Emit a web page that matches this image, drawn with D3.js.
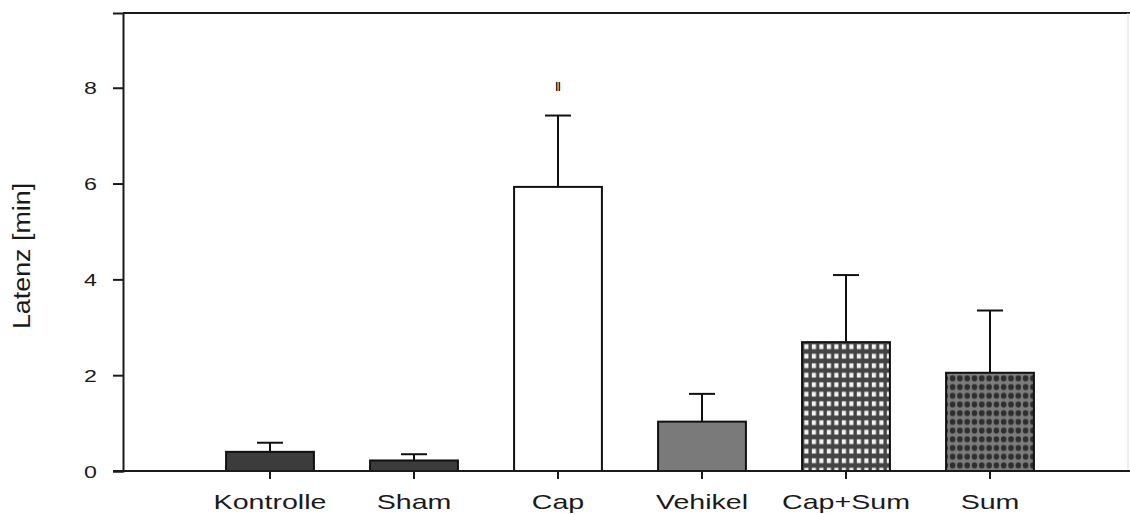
<!DOCTYPE html>
<html>
<head>
<meta charset="utf-8">
<script src="https://cdn.jsdelivr.net/npm/d3@7"></script>
<style>
  html, body { margin: 0; padding: 0; background: #fff; }
  svg text { font-family: "Liberation Sans", Arial, sans-serif; fill: #1a1a1a; }
</style>
</head>
<body>
<svg id="chart" width="1130" height="514"></svg>
<script>
// Latency per treatment group (minutes), mean and upper SEM
const groups = ["Kontrolle", "Sham", "Cap", "Vehikel", "Cap+Sum", "Sum"];
const means  = [0.40, 0.22, 5.93, 1.03, 2.69, 2.05];
const upper  = [0.59, 0.35, 7.42, 1.61, 4.09, 3.35];
const marks  = ["", "", "\u2016", "", "", ""];
const yTicks = [0, 2, 4, 6, 8];
const yMax = 9.56;

const svg = d3.select("#chart");
const W = 1130, H = 514;
const m = { left: 123, right: 2, top: 13, bottom: 43 };

const x = d3.scaleBand()
  .domain(groups)
  .range([198, 1062])
  .paddingInner(0.39)
  .paddingOuter(0.195);
const y = d3.scaleLinear().domain([0, yMax]).range([H - m.bottom, m.top]);

// fill patterns
const defs = svg.append("defs");
const pWhite = defs.append("pattern").attr("id", "pat-grid")
  .attr("patternUnits", "userSpaceOnUse").attr("width", 7.5).attr("height", 9.5);
pWhite.append("rect").attr("width", 7.5).attr("height", 9.5).attr("fill", "#444");
pWhite.append("rect").attr("x", 1.8).attr("y", 2.3).attr("width", 4.2).attr("height", 4.8).attr("fill", "#f2f2f2");

const pDots = defs.append("pattern").attr("id", "pat-dots")
  .attr("patternUnits", "userSpaceOnUse").attr("width", 7.3).attr("height", 8.7);
pDots.append("rect").attr("width", 7.3).attr("height", 8.7).attr("fill", "#7c7c7c");
pDots.append("ellipse").attr("cx", 3.6).attr("cy", 4.3).attr("rx", 2.8).attr("ry", 3.0).attr("fill", "#2e2e2e");

const fills = {
  "Kontrolle": "#3c3c3c",
  "Sham": "#3c3c3c",
  "Cap": "#ffffff",
  "Vehikel": "#7a7a7a",
  "Cap+Sum": "url(#pat-grid)",
  "Sum": "url(#pat-dots)"
};

const data = groups.map((g, i) => ({ g, mean: means[i], up: upper[i], mark: marks[i] }));

// frame: top and faint right edge
svg.append("line").attr("x1", m.left).attr("x2", W).attr("y1", y(yMax)).attr("y2", y(yMax))
  .attr("stroke", "#1a1a1a").attr("stroke-width", 2);
svg.append("line").attr("x1", W - m.right).attr("x2", W - m.right).attr("y1", y(yMax)).attr("y2", y(0))
  .attr("stroke", "#dcdcdc").attr("stroke-width", 1);

// error bars (drawn first so the bars cover the part inside)
const cap = 26;
const eg = svg.append("g").attr("stroke", "#111").attr("stroke-width", 2);
eg.selectAll("line.v").data(data).join("line").attr("class", "v")
  .attr("x1", d => x(d.g) + x.bandwidth() / 2).attr("x2", d => x(d.g) + x.bandwidth() / 2)
  .attr("y1", d => y(d.mean)).attr("y2", d => y(d.up));
eg.selectAll("line.c").data(data).join("line").attr("class", "c")
  .attr("x1", d => x(d.g) + x.bandwidth() / 2 - cap / 2).attr("x2", d => x(d.g) + x.bandwidth() / 2 + cap / 2)
  .attr("y1", d => y(d.up)).attr("y2", d => y(d.up));

// bars
svg.append("g").selectAll("rect").data(data).join("rect")
  .attr("x", d => x(d.g)).attr("width", x.bandwidth())
  .attr("y", d => y(d.mean)).attr("height", d => y(0) - y(d.mean))
  .attr("fill", d => fills[d.g])
  .attr("stroke", "#111").attr("stroke-width", 2);

// significance marks
svg.append("g").selectAll("text").data(data.filter(d => d.mark)).join("text")
  .attr("x", d => x(d.g) + x.bandwidth() / 2).attr("y", d => y(d.up) - 25)
  .attr("text-anchor", "middle").attr("font-size", 12).attr("font-weight", "bold")
  .style("fill", "#111")
  .text(d => d.mark);

// y axis
const yAxis = svg.append("g").attr("transform", `translate(${m.left},0)`)
  .call(d3.axisLeft(y).tickValues(yTicks).tickSize(10).tickPadding(0).tickFormat(d3.format("d")));
yAxis.select(".domain").attr("stroke", "#1a1a1a").attr("stroke-width", 2);
yAxis.selectAll(".tick line").attr("stroke", "#1a1a1a").attr("stroke-width", 2);
yAxis.selectAll(".tick text")
  .attr("x", null).attr("dy", null)
  .attr("font-size", 16).attr("text-anchor", "end")
  .attr("transform", "translate(-26,6) scale(1.45,1)");

// x axis (baseline with downward ticks)
const xAxis = svg.append("g").attr("transform", `translate(0,${y(0)})`)
  .call(d3.axisBottom(x).tickSize(8).tickPadding(0).tickSizeOuter(0));
xAxis.select(".domain").attr("d", `M${m.left - 10},0H${W}`).attr("stroke", "#1a1a1a").attr("stroke-width", 2);
xAxis.selectAll(".tick line").attr("stroke", "#1a1a1a").attr("stroke-width", 2);
xAxis.selectAll(".tick text")
  .attr("y", null).attr("dy", null)
  .attr("font-size", 20).attr("text-anchor", "middle")
  .attr("transform", "translate(0,38) scale(1.43,1)");

// y axis title
svg.append("text")
  .attr("transform", `translate(30,${(y(0) + y(yMax)) / 2 + 14}) rotate(-90) scale(1.58,1.45)`)
  .attr("text-anchor", "middle").attr("font-size", 17)
  .text("Latenz [min]");
</script>
</body>
</html>
